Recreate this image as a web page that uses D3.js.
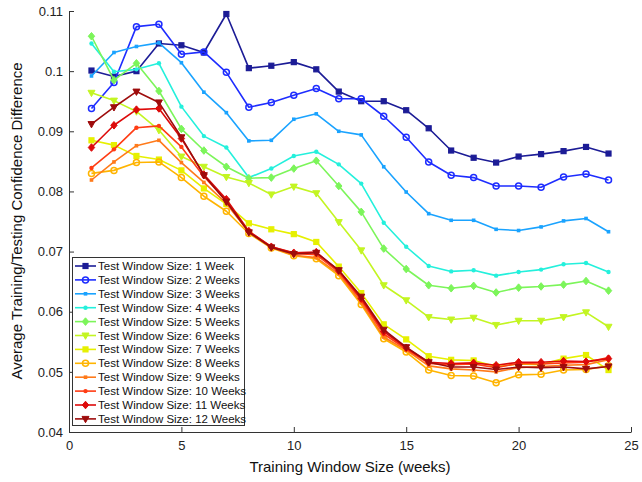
<!DOCTYPE html>
<html>
<head>
<meta charset="utf-8">
<script src="https://cdn.jsdelivr.net/npm/d3@7"></script>
<style>
  body { margin: 0; background: #fff; }
  svg { display: block; font-family: "Liberation Sans", Arial, sans-serif; }
</style>
</head>
<body>
<svg width="642" height="482"></svg>
<script>
// training window sizes (weeks)
const weeks = d3.range(1, 25);

const seriesNames = [
  "Test Window Size: 1 Week", "Test Window Size: 2 Weeks", "Test Window Size: 3 Weeks",
  "Test Window Size: 4 Weeks", "Test Window Size: 5 Weeks", "Test Window Size: 6 Weeks",
  "Test Window Size: 7 Weeks", "Test Window Size: 8 Weeks", "Test Window Size: 9 Weeks",
  "Test Window Size: 10 Weeks", "Test Window Size: 11 Weeks", "Test Window Size: 12 Weeks"
];

const s1 = [0.1001, 0.0991, 0.1000, 0.1046, 0.1043, 0.1031, 0.1095, 0.1005, 0.1009, 0.1015, 0.1003, 0.0966,
            0.0950, 0.0950, 0.0935, 0.0905, 0.0868, 0.0856, 0.0848, 0.0858, 0.0862, 0.0867, 0.0874, 0.0863];
const s2 = [0.0938, 0.0981, 0.1074, 0.1078, 0.1028, 0.1032, 0.0998, 0.0940, 0.0948, 0.0960, 0.0971, 0.0954,
            0.0954, 0.0925, 0.0890, 0.0849, 0.0827, 0.0823, 0.0809, 0.0809, 0.0807, 0.0824, 0.0829, 0.0819];
const s3 = [0.0992, 0.1031, 0.1041, 0.1047, 0.1014, 0.0965, 0.0931, 0.0884, 0.0885, 0.0920, 0.0929, 0.0900,
            0.0894, 0.0841, 0.0799, 0.0763, 0.0752, 0.0752, 0.0737, 0.0735, 0.0741, 0.0751, 0.0755, 0.0733];
const s4 = [0.1046, 0.0999, 0.1003, 0.1013, 0.0941, 0.0892, 0.0873, 0.0823, 0.0838, 0.0859, 0.0866, 0.0845,
            0.0813, 0.0748, 0.0708, 0.0676, 0.0667, 0.0669, 0.0660, 0.0666, 0.0670, 0.0679, 0.0681, 0.0666];
const s5 = [0.1058, 0.0985, 0.1013, 0.0967, 0.0904, 0.0868, 0.0841, 0.0822, 0.0823, 0.0838, 0.0851, 0.0809,
            0.0766, 0.0705, 0.0671, 0.0644, 0.0639, 0.0643, 0.0632, 0.0640, 0.0642, 0.0645, 0.0651, 0.0635];
const s6 = [0.0964, 0.0951, 0.0933, 0.0902, 0.0858, 0.0841, 0.0824, 0.0814, 0.0795, 0.0808, 0.0797, 0.0749,
            0.0702, 0.0644, 0.0619, 0.0591, 0.0587, 0.0590, 0.0578, 0.0585, 0.0585, 0.0591, 0.0599, 0.0575];
const s7 = [0.0885, 0.0877, 0.0859, 0.0853, 0.0835, 0.0805, 0.0779, 0.0747, 0.0737, 0.0729, 0.0716, 0.0675,
            0.0631, 0.0579, 0.0554, 0.0526, 0.0520, 0.0519, 0.0509, 0.0513, 0.0512, 0.0522, 0.0528, 0.0503];
const s8 = [0.0830, 0.0835, 0.0848, 0.0849, 0.0823, 0.0792, 0.0767, 0.0730, 0.0706, 0.0693, 0.0688, 0.0660,
            0.0612, 0.0555, 0.0533, 0.0503, 0.0494, 0.0493, 0.0482, 0.0495, 0.0496, 0.0503, 0.0504, 0.0510];
const s9 = [0.0819, 0.0849, 0.0876, 0.0885, 0.0848, 0.0815, 0.0780, 0.0732, 0.0707, 0.0694, 0.0690, 0.0663,
            0.0615, 0.0558, 0.0536, 0.0510, 0.0505, 0.0503, 0.0500, 0.0507, 0.0509, 0.0511, 0.0512, 0.0520];
const s10 = [0.0839, 0.0870, 0.0906, 0.0909, 0.0874, 0.0825, 0.0785, 0.0733, 0.0708, 0.0697, 0.0695, 0.0666,
             0.0619, 0.0563, 0.0538, 0.0514, 0.0512, 0.0513, 0.0507, 0.0514, 0.0513, 0.0515, 0.0516, 0.0524];
const s11 = [0.0873, 0.0910, 0.0936, 0.0938, 0.0888, 0.0828, 0.0787, 0.0734, 0.0708, 0.0698, 0.0699, 0.0668,
             0.0622, 0.0567, 0.0540, 0.0516, 0.0514, 0.0515, 0.0511, 0.0516, 0.0516, 0.0518, 0.0517, 0.0522];
const s12 = [0.0912, 0.0940, 0.0966, 0.0948, 0.0890, 0.0827, 0.0783, 0.0732, 0.0707, 0.0696, 0.0698, 0.0669,
             0.0625, 0.0570, 0.0541, 0.0516, 0.0508, 0.0508, 0.0504, 0.0508, 0.0507, 0.0508, 0.0505, 0.0509];

const allSeries = [s1, s2, s3, s4, s5, s6, s7, s8, s9, s10, s11, s12];

const colors = ["#1c1c96", "#1e2dff", "#1aa3ff", "#24f0dc", "#7cf55a", "#c3f522",
                "#e6f000", "#ffb400", "#ff7a1a", "#ff3c14", "#dd0a0a", "#9e0c0c"];
// marker kinds, cycling like the matlab markers
const markers = ["square", "circle", "dot", "point", "diamond", "tri",
                 "square", "circle", "dot", "point", "diamond", "tri"];

const xTicks = [0, 5, 10, 15, 20, 25];
const yTicks = [0.04, 0.05, 0.06, 0.07, 0.08, 0.09, 0.1, 0.11];

const svg = d3.select("svg");
const plotL = 69, plotR = 631, plotT = 11, plotB = 432;

const x = d3.scaleLinear().domain([0, 25]).range([plotL, plotR]);
const y = d3.scaleLinear().domain([0.04, 0.11]).range([plotB, plotT]);

// axes (ticks point inward)
const xAxis = svg.append("g")
  .attr("transform", `translate(0,${plotB})`)
  .call(d3.axisBottom(x).tickValues(xTicks).tickSizeInner(-5).tickSizeOuter(0).tickPadding(9)
    .tickFormat(d3.format("d")));
const yAxis = svg.append("g")
  .attr("transform", `translate(${plotL},0)`)
  .call(d3.axisLeft(y).tickValues(yTicks).tickSizeInner(-5).tickSizeOuter(0).tickPadding(6)
    .tickFormat(d => String(+d.toFixed(2))));

[xAxis, yAxis].forEach(a => {
  a.select(".domain").attr("stroke", "#333");
  a.selectAll(".tick line").attr("stroke", "#333");
  a.selectAll(".tick text").attr("fill", "#222").style("font-size", "13px")
    .style("font-family", "'Liberation Sans', Arial, sans-serif");
});

svg.append("text")
  .attr("x", 350).attr("y", 472)
  .attr("text-anchor", "middle")
  .style("font-size", "15px").attr("fill", "#111")
  .text("Training Window Size (weeks)");

svg.append("text")
  .attr("transform", "translate(22,221) rotate(-90)")
  .attr("text-anchor", "middle")
  .style("font-size", "15px").attr("fill", "#111")
  .text("Average Training/Testing Confidence Difference");

function drawMarker(g, kind, cx, cy, color) {
  if (kind === "square") {
    g.append("rect").attr("x", cx - 2.5).attr("y", cy - 2.5).attr("width", 5).attr("height", 5)
      .attr("fill", color).attr("stroke", color).attr("stroke-width", 1.2);
  } else if (kind === "circle") {
    g.append("circle").attr("cx", cx).attr("cy", cy).attr("r", 3)
      .attr("fill", "none").attr("stroke", color).attr("stroke-width", 1.5);
  } else if (kind === "dot") {
    g.append("rect").attr("x", cx - 1.8).attr("y", cy - 1.8).attr("width", 3.6).attr("height", 3.6)
      .attr("fill", color);
  } else if (kind === "point") {
    g.append("circle").attr("cx", cx).attr("cy", cy).attr("r", 2.2).attr("fill", color);
  } else if (kind === "diamond") {
    g.append("path").attr("transform", `translate(${cx},${cy})`)
      .attr("d", "M0,-3.8L3.2,0L0,3.8L-3.2,0Z").attr("fill", color).attr("stroke", color);
  } else {
    g.append("path").attr("transform", `translate(${cx},${cy})`)
      .attr("d", "M-3.5,-2.5L3.5,-2.5L0,3.8Z").attr("fill", color).attr("stroke", color);
  }
}

const line = d3.line().x((d, i) => x(weeks[i])).y(d => y(d));

allSeries.forEach((vals, k) => {
  const g = svg.append("g");
  g.append("path").datum(vals)
    .attr("d", line)
    .attr("fill", "none")
    .attr("stroke", colors[k])
    .attr("stroke-width", 1.6)
    .attr("stroke-linejoin", "round");
  vals.forEach((v, i) => drawMarker(g, markers[k], x(weeks[i]), y(v), colors[k]));
});

// legend
const legend = svg.append("g");
legend.append("rect")
  .attr("x", 72.5).attr("y", 257.5).attr("width", 172).attr("height", 168)
  .attr("fill", "#fff").attr("stroke", "#333").attr("stroke-width", 1);
seriesNames.forEach((name, k) => {
  const ly = 266 + k * 13.9;
  legend.append("line").attr("x1", 75).attr("x2", 96).attr("y1", ly).attr("y2", ly)
    .attr("stroke", colors[k]).attr("stroke-width", 1.6);
  drawMarker(legend, markers[k], 85.5, ly, colors[k]);
  legend.append("text").attr("x", 98).attr("y", ly + 4)
    .style("font-size", "11.5px").attr("fill", "#111").text(name);
});
</script>
</body>
</html>
